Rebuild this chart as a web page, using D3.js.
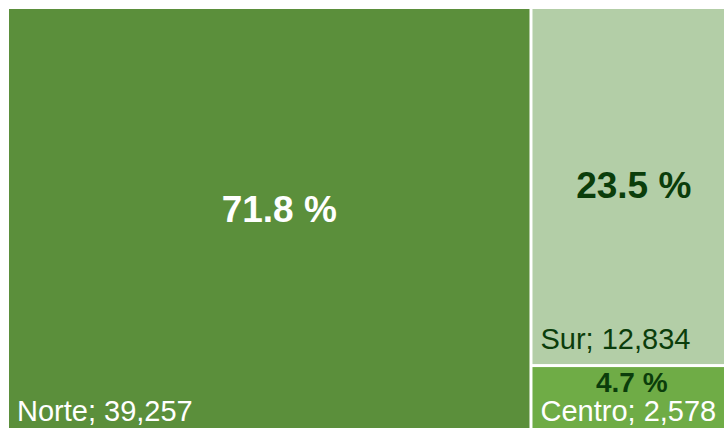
<!DOCTYPE html>
<html>
<head>
<meta charset="utf-8">
<script src="https://cdn.jsdelivr.net/npm/d3@7"></script>
<style>
  html, body { margin: 0; padding: 0; background: #fff; overflow: hidden; }
  svg { display: block; font-family: "Liberation Sans", Arial, sans-serif; }
</style>
</head>
<body>
<div id="chart-container"></div>
<script>
var regions = ["Norte", "Sur", "Centro"];
var counts = [39257, 12834, 2578];
var fills = ["#5b8f3b", "#b3cea7", "#6fac46"];
var pctColors = ["#ffffff", "#0b3d0b", "#0b3d0b"];
var nameColors = ["#ffffff", "#0b3d0b", "#ffffff"];

var width = 724, height = 428;

var svg = d3.select("#chart-container").append("svg")
    .attr("width", width)
    .attr("height", height);

var total = d3.sum(counts);
var root = d3.hierarchy({
    children: regions.map(function(r, i) { return { name: r, value: counts[i], i: i }; })
  })
  .sum(function(d) { return d.value || 0; });

// the plot runs past the right and bottom edges of the picture
d3.treemap()
  .tile(d3.treemapSquarify)
  .size([726, 427])
  .paddingInner(3)(root);

var fmt = d3.format(",");
var pct = function(v) { return (v / total * 100).toFixed(1) + " %"; };

var cell = svg.selectAll("g")
    .data(root.leaves())
    .enter().append("g")
    .attr("transform", function(d) { return "translate(" + (d.x0 + 9) + "," + (d.y0 + 9) + ")"; });

cell.append("rect")
  .attr("width", function(d) { return d.x1 - d.x0; })
  .attr("height", function(d) { return d.y1 - d.y0; })
  .attr("fill", function(d) { return fills[d.data.i]; });

cell.append("text")
  .attr("x", 8)
  .attr("y", function(d) { return d.y1 - d.y0 - 15; })
  .attr("font-size", 29)
  .attr("fill", function(d) { return nameColors[d.data.i]; })
  .text(function(d) { return d.data.name + "; " + fmt(d.data.value); });

// big boxes: percentage near the middle, small box: right above the name
var nudge = { Norte: [10, -12], Sur: [0, 0], Centro: [-2, 0] };
cell.append("text")
  .attr("text-anchor", "middle")
  .attr("font-weight", "bold")
  .attr("font-size", function(d) { return (d.y1 - d.y0) < 100 ? 28 : 37; })
  .attr("fill", function(d) { return pctColors[d.data.i]; })
  .attr("x", function(d) { return (d.x1 - d.x0) / 2 + nudge[d.data.name][0]; })
  .attr("y", function(d) {
    var h = d.y1 - d.y0;
    var y = h < 100 ? h - 44 : h / 2 + 11;
    return y + nudge[d.data.name][1];
  })
  .text(function(d) { return pct(d.data.value); });
</script>
</body>
</html>
